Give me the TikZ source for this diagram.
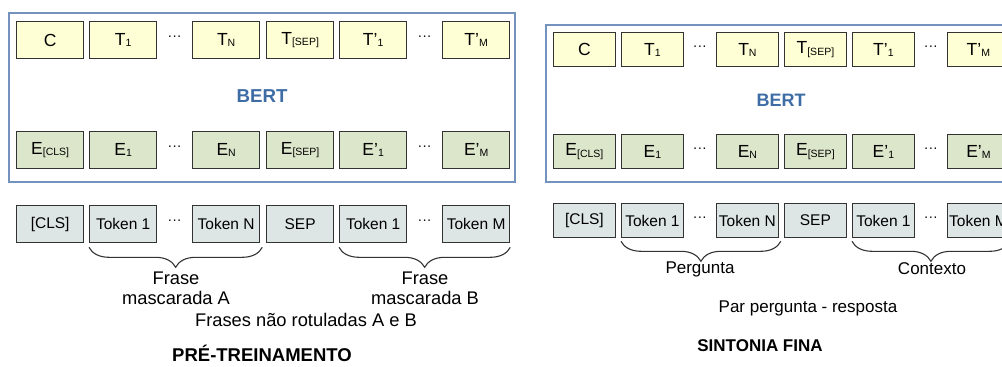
\documentclass[tikz,border=0pt]{standalone}
\usepackage{fontspec}
\setmainfont{Liberation Sans}
\usetikzlibrary{decorations.pathreplacing,calc}

\definecolor{outyellow}{HTML}{FFFFD5}
\definecolor{embgreen}{HTML}{DCE6CA}
\definecolor{inpgray}{HTML}{DEE5E5}
\definecolor{framecol}{HTML}{7393BE}
\definecolor{bertblue}{HTML}{3E6DA6}
\definecolor{edgegray}{HTML}{333333}

% small lowered index used inside the cells
\newcommand\lsub[1]{\raisebox{-1.2pt}{\fontsize{10.5}{12}\selectfont #1}}

\begin{document}
\begin{tikzpicture}[x=1pt,y=-1pt,
  cell/.style={draw=edgegray,line width=1.3pt,inner sep=0pt,anchor=north west,
    font=\fontsize{17.5}{20}\selectfont},
  lcell/.style={cell,minimum width=67pt,minimum height=37pt},
  rcell/.style={cell,minimum width=61.5pt,minimum height=34pt},
  outc/.style={fill=outyellow},
  embc/.style={fill=embgreen},
  inpc/.style={fill=inpgray,font=\fontsize{15.5}{18}\selectfont},
  dots/.style={inner sep=0pt,font=\fontsize{14}{18}\selectfont,yshift=1.5pt},
  frame/.style={draw=framecol,line width=1.4pt},
  bert/.style={font=\fontsize{18}{20}\selectfont\bfseries,text=bertblue},
  caption/.style={font=\fontsize{17}{20}\selectfont,align=center,inner sep=0pt},
  bigcaption/.style={caption,font=\fontsize{18.3}{20}\selectfont},
  title/.style={font=\fontsize{17}{20}\selectfont\bfseries,inner sep=0pt},
  curly/.style={draw=edgegray,line width=1.1pt,
    decorate,decoration={brace,mirror,amplitude=20pt}}]

\useasboundingbox (0,0) rectangle (1002,367);
\clip (0,0) rectangle (1002,367);

% ---------------- pre-training ----------------
\draw[frame] (9,13) rectangle (515,182);
\foreach \x/\lab [count=\i] in {16/C, 89/{T\lsub{1}}, 192/{T\lsub{N}},
    266/{T\lsub{[SEP]}}, 339/{T'\lsub{1}}, 442/{T'\lsub{M}}}
  \node[lcell,outc] (lt\i) at (\x,21) {\lab};
\foreach \x/\lab [count=\i] in {16/{E\lsub{[CLS]}}, 89/{E\lsub{1}}, 192/{E\lsub{N}},
    266/{E\lsub{[SEP]}}, 339/{E'\lsub{1}}, 442/{E'\lsub{M}}}
  \node[lcell,embc] (le\i) at (\x,131) {\lab};
\foreach \x/\lab [count=\i] in {16/{[CLS]}, 89/Token 1, 192/Token N,
    266/SEP, 339/Token 1, 442/Token M}
  \node[lcell,inpc] (lk\i) at (\x,205) {\lab};
\foreach \r in {t,e,k} {
  \node[dots] (l\r dA) at ($(l\r2.east)!0.5!(l\r3.west)$) {···};
  \node[dots] (l\r dB) at ($(l\r5.east)!0.5!(l\r6.west)$) {···};
}
\node[bert,font=\fontsize{18.7}{20}\selectfont\bfseries] (lbert) at (262,96) {BERT};
\draw[curly] ([yshift=-4pt]lk2.south west) -- ([xshift=2pt,yshift=-4pt]lk3.south east);
\draw[curly] ([yshift=-4pt]lk5.south west) -- ([yshift=-4pt]lk6.south east);
\node[bigcaption] (lfa) at (176,288) {Frase\\mascarada A};
\node[bigcaption] (lfb) at (425,288) {Frase\\mascarada B};
\node[bigcaption] (lall) at (306,320) {Frases não rotuladas A e B};
\node[title,font=\fontsize{18.5}{20}\selectfont\bfseries] (ltitle) at (262,353) {PRÉ-TREINAMENTO};

% ---------------- fine-tuning ----------------
\draw[frame] (546,25) rectangle (1100,182);
\foreach \x/\lab [count=\i] in {553/C, 621/{T\lsub{1}}, 716/{T\lsub{N}},
    784/{T\lsub{[SEP]}}, 852/{T'\lsub{1}}, 947/{T'\lsub{M}}}
  \node[rcell,outc] (rt\i) at (\x,32) {\lab};
\foreach \x/\lab [count=\i] in {553/{E\lsub{[CLS]}}, 621/{E\lsub{1}}, 716/{E\lsub{N}},
    784/{E\lsub{[SEP]}}, 852/{E'\lsub{1}}, 947/{E'\lsub{M}}}
  \node[rcell,embc] (re\i) at (\x,134) {\lab};
\foreach \x/\lab [count=\i] in {553/{[CLS]}, 621/Token 1, 716/Token N,
    784/SEP, 852/Token 1, 947/Token M}
  \node[rcell,inpc] (rk\i) at (\x,203) {\lab};
\foreach \r in {t,e,k} {
  \node[dots] (r\r dA) at ($(r\r2.east)!0.5!(r\r3.west)$) {···};
  \node[dots] (r\r dB) at ($(r\r5.east)!0.5!(r\r6.west)$) {···};
}
\node[bert] (rbert) at (781,100) {BERT};
\draw[curly] ([yshift=-3pt]rk2.south west) -- ([xshift=2pt,yshift=-3pt]rk3.south east);
\draw[curly] ([yshift=-3pt]rk5.south west) -- ([yshift=-3pt]rk6.south east);
\node[caption] (rq) at (700,269) {Pergunta};
\node[caption] (rc) at (932,269) {Contexto};
\node[caption] (rpair) at (808,308) {Par pergunta - resposta};
\node[title] (rtitle) at (760,346) {SINTONIA FINA};
\end{tikzpicture}
\end{document}
